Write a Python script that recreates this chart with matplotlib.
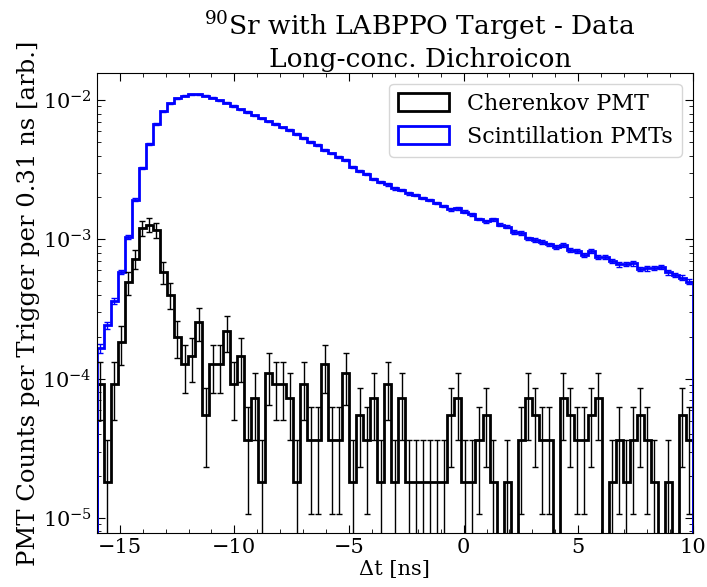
import numpy as np
import matplotlib.pyplot as plt
from matplotlib.ticker import MultipleLocator

plt.rcParams['font.family'] = 'DejaVu Serif'
plt.rcParams['mathtext.fontset'] = 'dejavuserif'

# binning of the time difference histogram
t_lo, t_hi, n_bins = -16.0, 10.0, 85

# Cherenkov PMT: raw counts per bin, and scale to counts per trigger
cherenkov_counts = [5, 1, 5, 10, 27, 40, 66, 70, 64, 32, 22, 11, 7, 8,
                    14, 3, 7, 7, 12, 5, 8, 2, 4, 1, 6, 5, 5, 4,
                    1, 5, 2, 2, 7, 2, 2, 6, 1, 3, 2, 4, 1, 5, 1, 4,
                    1, 1, 1, 1, 1, 1,
                    3, 4, 1, 1, 2, 3,
                    1, 0, 1, 0, 2, 4, 3, 2, 2, 0, 4, 3, 2, 2,
                    3, 4, 0, 1, 2, 1, 2, 3, 2, 1, 0, 1, 0, 3, 2]
cherenkov_scale = 1.82e-5

# Scintillation PMTs: counts per trigger per bin
scint_rate = [1.65e-4, 2.41e-4, 3.61e-4, 5.86e-4, 1.04e-3, 1.93e-3, 3.23e-3,
              4.82e-3, 6.75e-3, 8.30e-3, 9.47e-3, 1.03e-2, 1.077e-2, 1.104e-2,
              1.099e-2, 1.077e-2, 1.042e-2, 9.95e-3, 9.55e-3, 9.06e-3, 8.59e-3,
              8.20e-3, 7.77e-3, 7.40e-3, 7.03e-3, 6.72e-3, 6.38e-3, 6.09e-3,
              5.70e-3, 5.34e-3, 5.02e-3, 4.75e-3, 4.38e-3, 4.14e-3, 3.92e-3,
              3.71e-3, 3.32e-3, 3.09e-3, 2.93e-3, 2.71e-3, 2.59e-3, 2.48e-3,
              2.32e-3, 2.26e-3, 2.14e-3, 2.08e-3, 1.98e-3, 1.91e-3, 1.82e-3,
              1.74e-3, 1.64e-3, 1.67e-3, 1.58e-3, 1.51e-3, 1.40e-3, 1.35e-3,
              1.39e-3, 1.27e-3, 1.23e-3, 1.13e-3, 1.11e-3, 1.02e-3, 9.89e-4,
              9.61e-4, 9.21e-4, 8.85e-4, 9.10e-4, 8.38e-4, 8.24e-4, 7.71e-4,
              8.28e-4, 7.42e-4, 7.50e-4, 6.99e-4, 6.61e-4, 6.65e-4, 6.72e-4,
              6.12e-4, 6.19e-4, 6.25e-4, 6.36e-4, 5.80e-4, 5.54e-4, 5.30e-4,
              4.96e-4]
scint_scale = 8e-7

edges = np.linspace(t_lo, t_hi, n_bins + 1)
centers = 0.5 * (edges[1:] + edges[:-1])

cher = np.array(cherenkov_counts) * cherenkov_scale
cher_err = np.sqrt(cherenkov_counts) * cherenkov_scale
scint = np.array(scint_rate)
scint_err = np.sqrt(scint * scint_scale)

fig = plt.figure(figsize=(7.07, 5.87), dpi=100)
ax = fig.add_axes([0.137, 0.092, 0.843, 0.784])
ax.set_yscale('log')

ax.hist(centers, bins=edges, weights=cher, histtype='step', color='k',
        lw=2, label='Cherenkov PMT')
ax.hist(centers, bins=edges, weights=scint, histtype='step', color='b',
        lw=2, label='Scintillation PMTs')

m = cher > 0
ax.errorbar(centers[m], cher[m], yerr=cher_err[m], fmt='none', ecolor='k',
            elinewidth=1, capsize=2.2)
ax.errorbar(centers, scint, yerr=scint_err, fmt='none', ecolor='b',
            elinewidth=1, capsize=2.2)

ax.set_xlim(t_lo, t_hi)
ax.set_ylim(7.8e-6, 1.57e-2)
ax.set_xticks([-15, -10, -5, 0, 5, 10])
ax.xaxis.set_minor_locator(MultipleLocator(1))
ax.tick_params(which='both', direction='in', top=True, right=True,
               labelsize=15)
ax.tick_params(which='major', length=6)
ax.tick_params(which='minor', length=3)

ax.set_xlabel('Δt [ns]', fontsize=15, labelpad=2)
ax.set_ylabel('PMT Counts per Trigger per 0.31 ns [arb.]', fontsize=17.5,
              labelpad=2)
ax.set_title('$^{90}$Sr with LABPPO Target - Data\nLong-conc. Dichroicon',
             fontsize=19, x=0.542, pad=4)

ax.legend(loc='upper right', fontsize=16, handlelength=2.3,
          handleheight=0.85, edgecolor='#cccccc')

fig.savefig('out.png', dpi=100)
